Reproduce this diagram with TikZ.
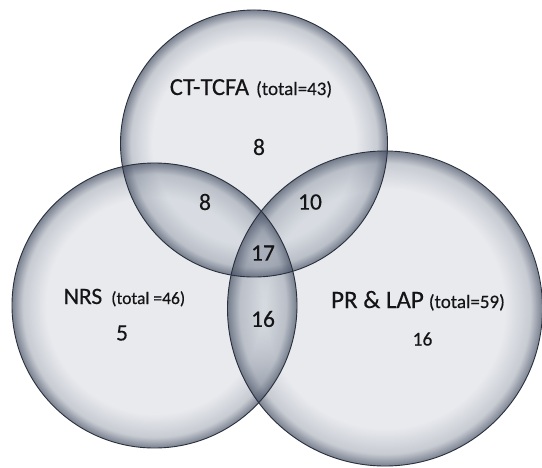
\documentclass[tikz,border=0pt]{standalone}
\usepackage{fontspec}
\setmainfont{Carlito}[FakeBold=0.35]
\usetikzlibrary{fadings}

% darkening towards the rim of each disc (transparent inside, denser at the edge)
\pgfdeclareradialshading{rimglowshade}{\pgfpointorigin}{%
  color(0bp)=(pgftransparent!100);
  color(19bp)=(pgftransparent!100);
  color(23bp)=(pgftransparent!80);
  color(25bp)=(pgftransparent!30);
  color(50bp)=(pgftransparent!30)}
\pgfdeclarefading{rimglow}{\pgfuseshading{rimglowshade}}

\definecolor{discfill}{RGB}{182,188,200}
\definecolor{discrim}{RGB}{70,80,100}
\definecolor{discedge}{RGB}{42,48,60}
\definecolor{inktext}{RGB}{20,20,22}

\tikzset{
  disc/.style={fill=discfill, fill opacity=0.3},
  discshade/.style={fill=discrim, path fading=rimglow},
  discline/.style={draw=discedge, line width=0.9pt},
  setname/.style={inner sep=0pt, anchor=base, text=inktext},
  count/.style={inner sep=0pt, text=inktext, font=\fontsize{23.5}{26}\selectfont},
  smallcount/.style={inner sep=0pt, text=inktext, font=\fontsize{19.5}{22}\selectfont}
}

\newcommand{\namesize}[1]{\fontsize{#1}{26}\selectfont}

\begin{document}
\begin{tikzpicture}[x=1pt,y=-1pt]
  \useasboundingbox (0,0) rectangle (542,467);
  \fill[white] (0,0) rectangle (542,467);

  % centres of the three sets
  \coordinate (T) at (254,143.5);
  \coordinate (L) at (154.5,305.5);
  \coordinate (R) at (385,308.5);

  % translucent discs
  \fill[disc] (T) circle[radius=133.5pt];
  \fill[disc] (L) circle[radius=142.5pt];
  \fill[disc] (R) circle[radius=157.5pt];

  % shading along the inner rims
  \fill[discshade] (T) circle[radius=133.5pt];
  \fill[discshade] (L) circle[radius=142.5pt];
  \fill[discshade] (R) circle[radius=157.5pt];

  % outlines
  \draw[discline] (T) circle[radius=133.5pt];
  \draw[discline] (L) circle[radius=142.5pt];
  \draw[discline] (R) circle[radius=157.5pt];

  % set names
  \node[setname] (nameT) at (251,95)
    {\namesize{24.5}CT-TCFA\hspace{7pt}{\namesize{19}(total=43)}};
  \node[setname] (nameL) at (124.5,304)
    {\namesize{23.5}NRS\hspace{9pt}{\namesize{17.5}(total =46)}};
  \node[setname] (nameR) at (418,308)
    {\namesize{25}PR \& LAP\hspace{5pt}{\namesize{19}(total=59)}};

  % region counts
  \node[count] (onlyT) at (259,147) {8};
  \node[count] (TL) at (205,202) {8};
  \node[count] (TR) at (310,202) {10};
  \node[count] (TLR) at (263,253) {17};
  \node[count] (LR) at (263,319) {16};
  \node[count] (onlyL) at (122,333) {5};
  \node[smallcount] (onlyR) at (422.5,339) {16};
\end{tikzpicture}
\end{document}
